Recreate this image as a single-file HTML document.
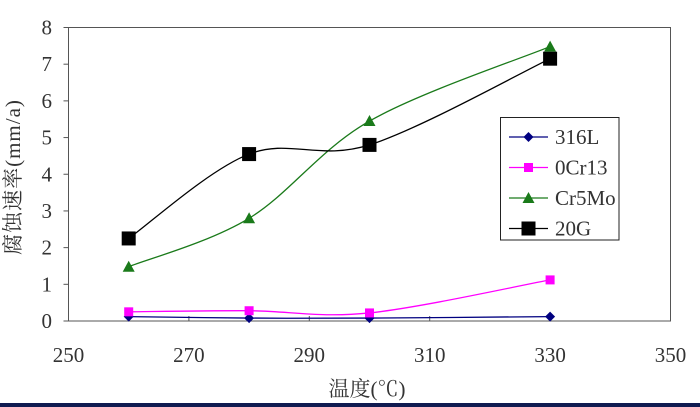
<!DOCTYPE html>
<html><head><meta charset="utf-8"><style>
html,body{margin:0;padding:0;background:#fff;}
svg{display:block;}
text{font-family:"Liberation Serif","Noto Serif CJK SC",serif;fill:#333;}
</style></head><body>
<svg id="chart" width="700" height="407" viewBox="0 0 700 407">
<rect x="0" y="403" width="700" height="4" fill="#101a50"/>
<rect x="68.5" y="27.5" width="602" height="293.5" fill="none" stroke="#555" stroke-width="1"/>
<g id="axes"></g>
<g id="series"></g>
<text x="20" y="177" font-size="21" letter-spacing="1" text-anchor="middle" transform="rotate(-90 20 177)">腐蚀速率(mm/a)</text>
<text x="367" y="396" font-size="21" text-anchor="middle">温度(℃)</text>
<g>
<rect x="500.5" y="117.5" width="118.5" height="122.5" fill="#fff" stroke="#222" stroke-width="1"/>
<g id="legend"></g>
</g>
</svg>
<script>
const temps=[260,280,300,330];
const s316L=[0.12,0.08,0.08,0.12];
const s0Cr13=[0.25,0.28,0.22,1.12];
const sCr5Mo=[1.48,2.8,5.45,7.48];
const s20G=[2.25,4.55,4.8,7.15];
const seriesNames=["316L","0Cr13","Cr5Mo","20G"];
const xTicks=[250,270,290,310,330,350];
const yTicks=[0,1,2,3,4,5,6,7,8];
const NS="http://www.w3.org/2000/svg";
const X0=68.5,X1=670.5,Y0=321,Y1=27.5;
const xs=v=>X0+(v-250)/100*(X1-X0);
const ys=v=>Y0-v/8*(Y0-Y1);
function mk(tag,attrs,parent){const e=document.createElementNS(NS,tag);for(const k in attrs)e.setAttribute(k,attrs[k]);parent.appendChild(e);return e;}
const axes=document.getElementById('axes');
yTicks.forEach(t=>{
  const l=mk('line',{x1:X0-5,x2:X0,y1:ys(t),y2:ys(t),stroke:'#555'},axes);
  
  
  const tx=mk('text',{x:52,y:ys(t)+7,'font-size':21,'text-anchor':'end'},axes);
  
  
  tx.textContent=t;
});
xTicks.forEach(t=>{
  const l=mk('line',{x1:xs(t),x2:xs(t),y1:Y0,y2:Y0-5,stroke:'#555'},axes);
  
  
  const tx=mk('text',{x:xs(t),y:362,'font-size':21,'text-anchor':'middle'},axes);
  
  
  tx.textContent=t;
});
function smooth(pts){
  let d=`M${pts[0][0]},${pts[0][1]}`;
  for(let i=0;i<pts.length-1;i++){
    const p0=pts[i-1]||pts[i],p1=pts[i],p2=pts[i+1],p3=pts[i+2]||p2;
    const k=0.5/3;
    d+=` C${p1[0]+(p2[0]-p0[0])*k},${p1[1]+(p2[1]-p0[1])*k} ${p2[0]-(p3[0]-p1[0])*k},${p2[1]-(p3[1]-p1[1])*k} ${p2[0]},${p2[1]}`;
  }
  return d;
}
function marker(type,x,y,color,parent){
  let e;
  if(type==='diamond') e=mk('polygon',{points:`${x},${y-5} ${x+5},${y} ${x},${y+5} ${x-5},${y}`,fill:color},parent);
  else if(type==='square') e=mk('rect',{x:x-4.5,y:y-4.5,width:9,height:9,fill:color},parent);
  else if(type==='triangle') e=mk('polygon',{points:`${x},${y-6} ${x+6},${y+5} ${x-6},${y+5}`,fill:color},parent);
  else e=mk('rect',{x:x-7,y:y-7,width:14,height:14,fill:color},parent);
  return e;
}
const data=[s316L,s0Cr13,sCr5Mo,s20G];
const colors=['#000080','#ff00ff','#1a7a1a','#000'];
const mtypes=['diamond','square','triangle','bigsquare'];
const sg=document.getElementById('series');
data.forEach((vals,i)=>{
  const pts=temps.map((t,j)=>[xs(t),ys(vals[j])]);
  const p=mk('path',{d:smooth(pts),fill:'none',stroke:colors[i],'stroke-width':1.3},sg);
  
  
  pts.forEach(pt=>{
    const m=marker(mtypes[i],pt[0],pt[1],colors[i],sg);
    
    
  });
});
const lg=document.getElementById('legend');
seriesNames.forEach((n,i)=>{
  const y=137+i*30.5;
  const l=mk('line',{x1:509,x2:548,y1:y,y2:y,stroke:colors[i],'stroke-width':1.3},lg);
  
  
  const m=marker(mtypes[i],528.5,y,colors[i],lg);
  
  
  const t=mk('text',{x:555,y:y+7,'font-size':21},lg);
  
  
  t.textContent=n;
});
</script>
</body></html>
